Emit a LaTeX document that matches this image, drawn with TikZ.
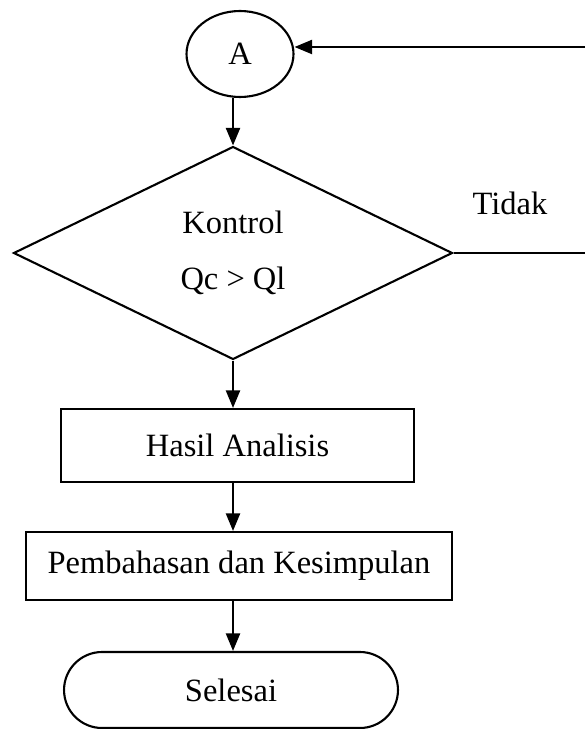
\documentclass[tikz,border=0pt]{standalone}
\usepackage{fontspec}
\setmainfont{Liberation Serif}
\usetikzlibrary{arrows.meta, shapes.geometric, shapes.misc}

\begin{document}
\begin{tikzpicture}[x=0.02cm, y=-0.02cm,
      every node/.style={font=\fontsize{18.5}{22}\selectfont},
      proc/.style={draw, line width=1.2pt, inner sep=0pt, align=center},
      term/.style={draw, line width=1.2pt, rounded rectangle, inner sep=0pt},
      decide/.style={draw, line width=1.2pt, diamond, inner sep=0pt, align=center},
      conn/.style={draw, line width=1.2pt, ellipse, inner sep=0pt},
      >={Triangle[length=10pt, width=8pt]}, line width=1.2pt]
    \useasboundingbox (0,0) rectangle (585,729);
    \node[conn, minimum width=2.14cm, minimum height=1.72cm] (A) at (240,54) {A};
    \node[decide, minimum width=8.78cm, minimum height=4.26cm] (kontrol) at (233,253)
      {Kontrol\\[10pt]Qc > Ql};
    \node (tidak) at (510,203) {Tidak};
    \node[proc, minimum width=7.06cm, minimum height=1.46cm] (hasil) at (237.5,445.5) {Hasil Analisis};
    \node[proc, minimum width=8.52cm, minimum height=1.36cm] (bahas) at (239,566) {Pembahasan dan Kesimpulan};
    \node[term, minimum width=6.68cm, minimum height=1.52cm] (selesai) at (231,690) {Selesai};
    \coordinate (balik) at (585,47);
    \coordinate (kanan) at (585,253);
    % alur utama
    \draw[->] (kontrol.north |- A.south) -- (kontrol.north);
    \draw[->] (kontrol.south) -- (kontrol.south |- hasil.north);
    \draw[->] (kontrol.south |- hasil.south) -- (kontrol.south |- bahas.north);
    \draw[->] (kontrol.south |- bahas.south) -- (kontrol.south |- selesai.north);
    % kembali ke A
    \draw (kontrol.east) -- (kanan);
    \draw[->] (balik) -- (A.east |- balik);
\end{tikzpicture}
\end{document}
